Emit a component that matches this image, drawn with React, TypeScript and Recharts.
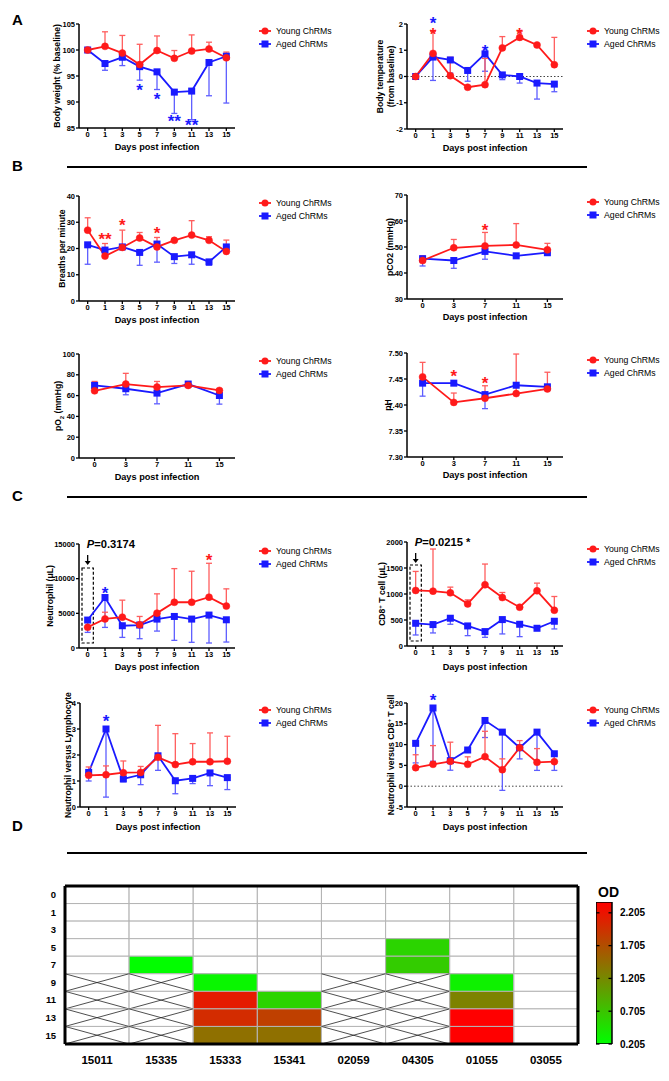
import React from 'react';
import {
  ComposedChart,
  Line,
  XAxis,
  YAxis,
  ErrorBar,
  ReferenceDot,
  ReferenceLine,
  ReferenceArea,
  BarChart,
  Bar,
} from 'recharts';

const FONT = '"Liberation Sans", Arial, Helvetica, sans-serif';
const RED = '#ff1a1a';
const BLUE = '#1a1aff';
const RED_ERR = '#ff5e5e';
const BLUE_ERR = '#5e5eff';
const SERIES = ['Young ChRMs', 'Aged ChRMs'];
const MU = '\u03bc';

const daysAll = ['0', '1', '3', '5', '7', '9', '11', '13', '15'];
const daysGas = ['0', '3', '7', '11', '15'];

// A - body weight (% baseline)
const weightYoung = [100, 100.7, 99.4, 97.2, 99.9, 98.4, 99.8, 100.2, 98.5];
const weightYoungSd = [0, 2.8, 3.4, 3.9, 2.8, 1.5, 3.1, 1.3, 1.1];
const weightAged = [100, 97.4, 98.6, 96.8, 95.8, 91.9, 92.1, 97.6, 98.8];
const weightAgedSd = [0, 1.3, 1.6, 2.6, 3.4, 4.1, 5.5, 6.4, 9.0];

// A - body temperature (from baseline)
const tempYoung = [0, 0.88, 0.03, -0.41, -0.31, 1.09, 1.49, 1.2, 0.45];
const tempYoungSd = [0, 0.84, 0.7, 0, 1.0, 0.43, 0.23, 0, 1.04];
const tempAged = [0, 0.74, 0.63, 0.23, 0.86, 0.06, 0.0, -0.25, -0.29];
const tempAgedSd = [0, 0.89, 0.5, 0.41, 0.66, 0.18, 0.25, 0.61, 0.29];

// B - breaths per minute
const breathYoung = [27.0, 17.1, 20.4, 24.0, 20.6, 23.1, 25.1, 23.1, 18.9];
const breathYoungSd = [4.7, 4.8, 6.6, 2.1, 3.6, 0, 5.5, 1.4, 4.3];
const breathAged = [21.4, 19.4, 20.6, 18.5, 21.7, 16.9, 17.6, 14.9, 20.6];
const breathAgedSd = [7.4, 0, 0, 4.9, 6.9, 2.6, 3.6, 1.3, 0];

// B - pCO2
const pco2Young = [44.8, 49.7, 50.4, 50.8, 48.9];
const pco2YoungSd = [1.8, 3.2, 5.2, 8.2, 2.5];
const pco2Aged = [45.5, 44.8, 48.3, 46.6, 47.8];
const pco2AgedSd = [2.8, 3.0, 3.0, 0, 0];

// B - pO2
const po2Young = [64.6, 71.1, 68.2, 69.8, 65.0];
const po2YoungSd = [9.0, 10.3, 5.4, 0, 1.6];
const po2Aged = [69.8, 66.6, 62.4, 71.1, 60.1];
const po2AgedSd = [3, 5.8, 10.3, 0, 8.3];

// B - pH
const phYoung = [7.454, 7.405, 7.413, 7.422, 7.431];
const phYoungSd = [0.028, 0.018, 0.024, 0.076, 0.032];
const phAged = [7.442, 7.442, 7.42, 7.438, 7.435];
const phAgedSd = [0.025, 0, 0.027, 0, 0];

// C - neutrophil (uL)
const neutYoung = [3000, 4200, 4450, 3350, 5030, 6600, 6600, 7330, 6040];
const neutYoungSd = [0, 960, 2450, 1200, 2780, 4850, 4470, 4890, 2490];
const neutAged = [4030, 7280, 3210, 3310, 4170, 4550, 4170, 4750, 4070];
const neutAgedSd = [1780, 4310, 1680, 1970, 1730, 3450, 3350, 4030, 3210];

// C - CD8+ T cell (uL)
const cd8Young = [1068, 1055, 1023, 810, 1177, 932, 746, 1061, 688];
const cd8YoungSd = [366, 810, 109, 77, 399, 97, 0, 148, 264];
const cd8Aged = [437, 412, 534, 386, 277, 508, 418, 341, 476];
const cd8AgedSd = [225, 161, 116, 187, 110, 276, 238, 0, 148];

// C - neutrophil / lymphocyte
const nlrYoung = [1.22, 1.24, 1.32, 1.33, 1.91, 1.63, 1.74, 1.74, 1.76];
const nlrYoungSd = [0.32, 0.34, 0.45, 0.23, 1.23, 1.19, 0.7, 1.11, 0.96];
const nlrAged = [1.33, 3.0, 1.08, 1.24, 1.97, 1.01, 1.1, 1.31, 1.13];
const nlrAgedSd = [0.33, 2.62, 0.11, 0.38, 0.56, 0.5, 0.2, 0.49, 0.46];

// C - neutrophil / CD8+ T cell
const ncdYoung = [4.46, 5.26, 5.98, 5.26, 7.1, 3.97, 9.26, 5.74, 5.9];
const ncdYoungSd = [3.1, 4.5, 4.6, 1.8, 6.1, 2.6, 1.7, 3.3, 1.5];
const ncdAged = [10.3, 18.8, 6.14, 8.7, 15.8, 13.0, 9.26, 13.0, 7.8];
const ncdAgedSd = [4.7, 12.8, 2.3, 0, 4.1, 14.0, 2.7, 9.2, 4.0];

type Star = { day: string; y: number; text: string; group: 'young' | 'aged' };

const weightStars: Star[] = [
  { day: '5', y: 93.0, text: '*', group: 'aged' },
  { day: '7', y: 91.2, text: '*', group: 'aged' },
  { day: '9', y: 87.0, text: '**', group: 'aged' },
  { day: '11', y: 86.3, text: '**', group: 'aged' },
];
const tempStars: Star[] = [
  { day: '1', y: 2.16, text: '*', group: 'aged' },
  { day: '1', y: 1.76, text: '*', group: 'young' },
  { day: '7', y: 1.11, text: '*', group: 'aged' },
  { day: '11', y: 1.76, text: '*', group: 'young' },
];
const breathStars: Star[] = [
  { day: '1', y: 25.0, text: '**', group: 'young' },
  { day: '3', y: 30.2, text: '*', group: 'young' },
  { day: '7', y: 27.0, text: '*', group: 'young' },
];
const pco2Stars: Star[] = [{ day: '7', y: 57.8, text: '*', group: 'young' }];
const phStars: Star[] = [
  { day: '3', y: 7.462, text: '*', group: 'young' },
  { day: '7', y: 7.449, text: '*', group: 'young' },
];
const neutStars: Star[] = [
  { day: '1', y: 8480, text: '*', group: 'aged' },
  { day: '13', y: 13180, text: '*', group: 'young' },
];
const nlrStars: Star[] = [{ day: '1', y: 3.44, text: '*', group: 'aged' }];
const ncdStars: Star[] = [{ day: '1', y: 21.6, text: '*', group: 'aged' }];

// D - heatmap (OD), null = blank, 'x' = not sampled
const heatCols = ['15011', '15335', '15333', '15341', '02059', '04305', '01055', '03055'];
const heatRows = ['0', '1', '3', '5', '7', '9', '11', '13', '15'];
const X = 'x';
const od15011 = [null, null, null, null, null, X, X, X, X];
const od15335 = [null, null, null, null, 0.22, X, X, X, X];
const od15333 = [null, null, null, null, null, 0.28, 2.15, 2.0, 1.42];
const od15341 = [null, null, null, null, null, null, 0.57, 1.83, 1.42];
const od02059 = [null, null, null, null, null, X, X, X, X];
const od04305 = [null, null, null, 0.57, 0.64, X, X, X, X];
const od01055 = [null, null, null, null, null, 0.32, 1.27, 2.37, 2.37];
const od03055 = [null, null, null, null, null, null, null, null, null];
const heatValues = [od15011, od15335, od15333, od15341, od02059, od04305, od01055, od03055];
const OD_MIN = 0.205;
const OD_MAX = 2.37;
const odTicks = [0.205, 0.705, 1.205, 1.705, 2.205];

const odColor = (v: number) => {
  const t = Math.max(0, Math.min(1, (v - OD_MIN) / (OD_MAX - OD_MIN)));
  return `rgb(${Math.round(255 * t)},${Math.round(255 * (1 - t))},0)`;
};

const PW = 156;
const YW = 40;
const M_TOP = 14;
const tickStyle = { fontSize: 7.5, fontWeight: 700, fill: '#000', fontFamily: FONT };
const axisLineStyle = { stroke: '#000', strokeWidth: 1.5 };
const tickLineStyle = { stroke: '#000', strokeWidth: 1.3 };

function LegendBox({ left, top }: { left: number; top: number }) {
  return (
    <div
      style={{
        position: 'absolute',
        left,
        top,
        fontFamily: FONT,
        fontSize: 8.7,
        whiteSpace: 'nowrap',
        color: '#000',
      }}
    >
      {SERIES.map((name, i) => {
        const color = i === 0 ? RED : BLUE;
        return (
          <div key={name} style={{ display: 'flex', alignItems: 'center', height: 13.5 }}>
            <svg width={12} height={8} style={{ marginRight: 5, overflow: 'visible' }}>
              <line x1={0} y1={4} x2={12} y2={4} stroke={color} strokeWidth={1.8} />
              {i === 0 ? (
                <circle cx={6} cy={4} r={3.5} fill={color} />
              ) : (
                <rect x={2.5} y={0.5} width={7} height={7} fill={color} />
              )}
            </svg>
            <span>{name}</span>
          </div>
        );
      })}
    </div>
  );
}

type Annot = { text: string; pY: number; arrowY: number; boxTop: number; boxBottom: number };

interface PanelCfg {
  left: number;
  plotLeft: number;
  plotTop: number;
  plotHeight: number;
  legendLeft: number;
  yLabelX: number;
  yLabel: React.ReactNode[];
  days: string[];
  young: number[];
  youngSd: number[];
  aged: number[];
  agedSd: number[];
  domain: [number, number];
  ticks: number[];
  fmt?: (v: number) => string;
  stars?: Star[];
  zero?: boolean;
  annot?: Annot;
  xLabelDy?: number;
}

function Panel(c: PanelCfg) {
  const data = c.days.map((day, i) => ({
    day,
    young: c.young[i],
    youngErr: [0, c.youngSd[i]],
    aged: c.aged[i],
    agedErr: [c.agedSd[i], 0],
  }));
  const W = 339;
  const rel = c.plotLeft - c.left;
  const H = M_TOP + c.plotHeight + 40;
  const labelCx = c.yLabelX - c.left;
  const labelCy = M_TOP + c.plotHeight / 2;
  const xDy = c.xLabelDy ?? 19;

  return (
    <div style={{ position: 'absolute', left: c.left, top: c.plotTop - M_TOP, width: W, height: H }}>
      <ComposedChart
        width={W}
        height={H}
        data={data}
        margin={{ top: M_TOP, right: W - rel - PW, bottom: 0, left: rel - YW }}
        style={{ overflow: 'visible' }}
      >
        <XAxis
          dataKey="day"
          scale="band"
          interval={0}
          height={40}
          tickSize={3}
          tickMargin={1}
          tick={tickStyle}
          tickLine={tickLineStyle}
          axisLine={axisLineStyle}
          label={(lp: any) => (
            <text
              x={lp.viewBox.x + lp.viewBox.width / 2}
              y={lp.viewBox.y + xDy}
              dy="0.35em"
              textAnchor="middle"
              fontSize={9.2}
              fontWeight={700}
              fontFamily={FONT}
              fill="#000"
            >
              Days post infection
            </text>
          )}
        />
        <YAxis
          width={YW}
          domain={c.domain}
          ticks={c.ticks}
          allowDataOverflow
          interval={0}
          tickSize={3}
          tickMargin={1}
          tick={tickStyle}
          tickFormatter={c.fmt}
          tickLine={tickLineStyle}
          axisLine={axisLineStyle}
          label={() => (
            <g>
              {c.yLabel.map((ln, i) => {
                const x = labelCx + (i - (c.yLabel.length - 1) / 2) * 11;
                return (
                  <text
                    key={i}
                    x={x}
                    y={labelCy}
                    dy="0.35em"
                    transform={`rotate(-90 ${x} ${labelCy})`}
                    textAnchor="middle"
                    fontSize={8.6}
                    fontWeight={700}
                    fontFamily={FONT}
                    fill="#000"
                  >
                    {ln}
                  </text>
                );
              })}
            </g>
          )}
        />
        {c.zero && <ReferenceLine y={0} stroke="#444" strokeDasharray="1.5 2" strokeWidth={1} />}
        {c.annot && (
          <ReferenceArea
            x1={c.days[0]}
            x2={c.days[0]}
            y1={c.annot.boxBottom}
            y2={c.annot.boxTop}
            ifOverflow="visible"
            shape={(r: any) => (
              <rect
                x={r.x + 3}
                y={r.y}
                width={r.width - 6}
                height={r.height}
                fill="none"
                stroke="#000"
                strokeWidth={1.2}
                strokeDasharray="3 2"
              />
            )}
          />
        )}
        <Line
          dataKey="aged"
          name={SERIES[1]}
          stroke={BLUE}
          strokeWidth={1.8}
          isAnimationActive={false}
          activeDot={false}
          dot={(dp: any) => (
            <rect key={`sq${dp.index}`} x={dp.cx - 3.5} y={dp.cy - 3.5} width={7} height={7} fill={BLUE} />
          )}
        >
          <ErrorBar dataKey="agedErr" width={3} stroke={BLUE_ERR} strokeWidth={1.3} direction="y" />
        </Line>
        <Line
          dataKey="young"
          name={SERIES[0]}
          stroke={RED}
          strokeWidth={1.8}
          isAnimationActive={false}
          activeDot={false}
          dot={{ r: 3.5, fill: RED, stroke: RED, strokeWidth: 0.5 }}
        >
          <ErrorBar dataKey="youngErr" width={3} stroke={RED_ERR} strokeWidth={1.3} direction="y" />
        </Line>
        {(c.stars || []).map((s, i) => (
          <ReferenceDot
            key={`st${i}`}
            x={s.day}
            y={s.y}
            r={0}
            ifOverflow="visible"
            shape={(d: any) => (
              <text
                x={d.cx}
                y={d.cy}
                dy="0.55em"
                textAnchor="middle"
                fontSize={17}
                fontWeight={700}
                fontFamily={FONT}
                fill={s.group === 'young' ? RED : BLUE}
              >
                {s.text}
              </text>
            )}
          />
        ))}
        {c.annot && (
          <ReferenceDot
            x={c.days[0]}
            y={c.annot.pY}
            r={0}
            ifOverflow="visible"
            shape={(d: any) => (
              <text x={d.cx - 1} y={d.cy} dy="0.36em" fontSize={11.2} fontWeight={700} fontFamily={FONT} fill="#000">
                <tspan fontStyle="italic">P</tspan>
                {c.annot!.text}
              </text>
            )}
          />
        )}
        {c.annot && (
          <ReferenceDot
            x={c.days[0]}
            y={c.annot.arrowY}
            r={0}
            ifOverflow="visible"
            shape={(d: any) => (
              <g>
                <line x1={d.cx} y1={d.cy - 10} x2={d.cx} y2={d.cy - 3} stroke="#000" strokeWidth={1.3} />
                <path d={`M${d.cx - 3},${d.cy - 4}L${d.cx + 3},${d.cy - 4}L${d.cx},${d.cy}Z`} fill="#000" />
              </g>
            )}
          />
        )}
      </ComposedChart>
      <LegendBox left={c.legendLeft} top={M_TOP} />
    </div>
  );
}

function HeatCell(props: any) {
  const { x, y, width, height, value } = props;
  const top = Math.min(y, y + height);
  const h = Math.abs(height);
  const fill = typeof value === 'number' ? odColor(value) : '#fff';
  return (
    <g>
      <rect x={x} y={top} width={width} height={h} fill={fill} stroke="#b4b4b4" strokeWidth={1} />
      {value === X && (
        <path
          d={`M${x},${top}L${x + width},${top + h}M${x + width},${top}L${x},${top + h}`}
          stroke="#222"
          strokeWidth={0.8}
          fill="none"
        />
      )}
    </g>
  );
}

function Heatmap() {
  const data = heatCols.map((col) => {
    const o: Record<string, any> = { col };
    heatRows.forEach((_, ri) => {
      o[`r${ri}`] = 1;
    });
    return o;
  });
  const thick = { stroke: '#000', strokeWidth: 3 };
  return (
    <div style={{ position: 'absolute', left: 0, top: 884 }}>
      <BarChart
        width={590}
        height={190}
        data={data}
        margin={{ top: 1, right: 11, left: 35, bottom: 0 }}
        barCategoryGap={0}
        barGap={0}
      >
        {heatRows.map((r, ri) => (
          <Bar
            key={r}
            dataKey={`r${ri}`}
            stackId="h"
            isAnimationActive={false}
            shape={(bp: any) => <HeatCell {...bp} value={heatValues[bp.index][ri]} />}
          />
        ))}
        <XAxis
          dataKey="col"
          interval={0}
          tickLine={false}
          tickSize={0}
          tickMargin={12}
          height={30}
          tick={{ fontSize: 11.5, fontWeight: 700, fill: '#000', fontFamily: FONT }}
          axisLine={thick}
        />
        <XAxis xAxisId="top" orientation="top" dataKey="col" height={1} tick={false} tickLine={false} axisLine={thick} />
        <YAxis
          type="number"
          domain={[0, heatRows.length]}
          reversed
          ticks={heatRows.map((_, i) => i + 0.5)}
          tickFormatter={(v: number) => heatRows[Math.floor(v)]}
          interval={0}
          width={30}
          tickLine={false}
          tickSize={0}
          tickMargin={9}
          tick={{ fontSize: 9.5, fontWeight: 700, fill: '#000', fontFamily: FONT }}
          axisLine={thick}
        />
        <YAxis
          yAxisId="right"
          orientation="right"
          domain={[0, heatRows.length]}
          width={1}
          tick={false}
          tickLine={false}
          axisLine={thick}
        />
      </BarChart>
    </div>
  );
}

function OdTick(tp: any) {
  const { x, y, payload } = tp;
  return (
    <g>
      <line x1={x - 16} x2={x - 12.5} y1={y} y2={y} stroke="#000" strokeWidth={1.3} />
      <line x1={x - 3.5} x2={x} y1={y} y2={y} stroke="#000" strokeWidth={1.3} />
      <text x={x + 8} y={y} dy="0.35em" fontSize={10} fontWeight={700} fontFamily={FONT} fill="#000">
        {Number(payload.value).toFixed(3)}
      </text>
    </g>
  );
}

function ColorBar() {
  const data = [{ name: 'OD', od: [OD_MIN, OD_MAX] }];
  return (
    <div style={{ position: 'absolute', left: 596, top: 900 }}>
      <BarChart width={80} height={154} data={data} margin={{ top: 2, right: 14, left: 0, bottom: 10 }} barCategoryGap={0}>
        <defs>
          <linearGradient id="odGrad" x1="0" y1="1" x2="0" y2="0">
            <stop offset="0" stopColor="#00ff00" />
            <stop offset="1" stopColor="#ff0000" />
          </linearGradient>
        </defs>
        <XAxis dataKey="name" hide />
        <YAxis
          orientation="right"
          domain={[OD_MIN, OD_MAX]}
          ticks={odTicks}
          allowDataOverflow
          interval={0}
          width={50}
          tickSize={0}
          tickMargin={0}
          tickLine={false}
          axisLine={false}
          tick={<OdTick />}
        />
        <Bar dataKey="od" fill="url(#odGrad)" stroke="#000" strokeWidth={1.5} isAnimationActive={false} />
      </BarChart>
    </div>
  );
}

const letterStyle: React.CSSProperties = {
  position: 'absolute',
  left: 12,
  fontFamily: FONT,
  fontWeight: 700,
  fontSize: 15,
  lineHeight: '18px',
  color: '#000',
};

const ruleStyle = (top: number): React.CSSProperties => ({
  position: 'absolute',
  left: 67,
  top: top - 1,
  width: 520,
  height: 2,
  background: '#000',
});

export default function App() {
  const fmt2 = (v: number) => v.toFixed(2);
  return (
    <div
      style={{
        position: 'absolute',
        left: 0,
        top: 0,
        width: 669,
        height: 1081,
        background: '#fff',
        overflow: 'hidden',
      }}
    >
      <div style={{ ...letterStyle, top: 11 }}>A</div>
      <div style={ruleStyle(167)} />
      <div style={{ ...letterStyle, top: 157 }}>B</div>
      <div style={ruleStyle(497)} />
      <div style={{ ...letterStyle, top: 487 }}>C</div>
      <div style={ruleStyle(853)} />
      <div style={{ ...letterStyle, top: 817 }}>D</div>

      <Panel
        left={0} plotLeft={79} plotTop={24} plotHeight={104} legendLeft={259}
        yLabelX={57} yLabel={['Body weight (% baseline)']}
        days={daysAll} young={weightYoung} youngSd={weightYoungSd} aged={weightAged} agedSd={weightAgedSd}
        domain={[85, 105]} ticks={[85, 90, 95, 100, 105]} stars={weightStars}
      />
      <Panel
        left={330} plotLeft={407} plotTop={24} plotHeight={105} legendLeft={257}
        yLabelX={385} yLabel={['Body temperature', '(from baseline)']}
        days={daysAll} young={tempYoung} youngSd={tempYoungSd} aged={tempAged} agedSd={tempAgedSd}
        domain={[-2, 2]} ticks={[-2, -1, 0, 1, 2]} stars={tempStars} zero
      />
      <Panel
        left={0} plotLeft={79} plotTop={196} plotHeight={105} legendLeft={259}
        yLabelX={62} yLabel={['Breaths per minute']}
        days={daysAll} young={breathYoung} youngSd={breathYoungSd} aged={breathAged} agedSd={breathAgedSd}
        domain={[0, 40]} ticks={[0, 10, 20, 30, 40]} stars={breathStars}
      />
      <Panel
        left={330} plotLeft={407} plotTop={195} plotHeight={104} legendLeft={257}
        yLabelX={390} yLabel={['pCO2 (mmHg)']}
        days={daysGas} young={pco2Young} youngSd={pco2YoungSd} aged={pco2Aged} agedSd={pco2AgedSd}
        domain={[30, 70]} ticks={[30, 40, 50, 60, 70]} stars={pco2Stars} xLabelDy={18}
      />
      <Panel
        left={0} plotLeft={79} plotTop={354} plotHeight={104} legendLeft={259}
        yLabelX={58}
        yLabel={[
          <>
            pO<tspan baselineShift="sub" fontSize="0.7em">2</tspan> (mmHg)
          </>,
        ]}
        days={daysGas} young={po2Young} youngSd={po2YoungSd} aged={po2Aged} agedSd={po2AgedSd}
        domain={[0, 100]} ticks={[0, 20, 40, 60, 80, 100]}
      />
      <Panel
        left={330} plotLeft={407} plotTop={353} plotHeight={104} legendLeft={257}
        yLabelX={388} yLabel={['pH']}
        days={daysGas} young={phYoung} youngSd={phYoungSd} aged={phAged} agedSd={phAgedSd}
        domain={[7.3, 7.5]} ticks={[7.3, 7.35, 7.4, 7.45, 7.5]} fmt={fmt2} stars={phStars} xLabelDy={18}
      />
      <Panel
        left={0} plotLeft={79} plotTop={544} plotHeight={104} legendLeft={259}
        yLabelX={50} yLabel={[`Neutrophil (${MU}L)`]}
        days={daysAll} young={neutYoung} youngSd={neutYoungSd} aged={neutAged} agedSd={neutAgedSd}
        domain={[0, 15000]} ticks={[0, 5000, 10000, 15000]} stars={neutStars}
        annot={{ text: '=0.3174', pY: 15000, arrowY: 11970, boxTop: 11540, boxBottom: 720 }}
      />
      <Panel
        left={330} plotLeft={407} plotTop={542} plotHeight={104} legendLeft={257}
        yLabelX={382}
        yLabel={[
          <>
            CD8<tspan baselineShift="super" fontSize="0.7em">+</tspan>
            {` T cell (${MU}L)`}
          </>,
        ]}
        days={daysAll} young={cd8Young} youngSd={cd8YoungSd} aged={cd8Aged} agedSd={cd8AgedSd}
        domain={[0, 2000]} ticks={[0, 500, 1000, 1500, 2000]} xLabelDy={21}
        annot={{ text: '=0.0215 *', pY: 2000, arrowY: 1596, boxTop: 1558, boxBottom: 96 }}
      />
      <Panel
        left={0} plotLeft={80} plotTop={703} plotHeight={104} legendLeft={259}
        yLabelX={68} yLabel={['Neutrophil versus Lymphocyte']}
        days={daysAll} young={nlrYoung} youngSd={nlrYoungSd} aged={nlrAged} agedSd={nlrAgedSd}
        domain={[0, 4]} ticks={[0, 1, 2, 3, 4]} stars={nlrStars} xLabelDy={20}
      />
      <Panel
        left={330} plotLeft={407} plotTop={703} plotHeight={104} legendLeft={257}
        yLabelX={391}
        yLabel={[
          <>
            Neutrophil versus CD8<tspan baselineShift="super" fontSize="0.7em">+</tspan> T cell
          </>,
        ]}
        days={daysAll} young={ncdYoung} youngSd={ncdYoungSd} aged={ncdAged} agedSd={ncdAgedSd}
        domain={[-5, 20]} ticks={[-5, 0, 5, 10, 15, 20]} stars={ncdStars} zero xLabelDy={20}
      />

      <Heatmap />
      <ColorBar />
      <div
        style={{
          position: 'absolute',
          left: 598,
          top: 884,
          fontFamily: FONT,
          fontWeight: 700,
          fontSize: 14,
          lineHeight: '16px',
          color: '#000',
        }}
      >
        OD
      </div>
    </div>
  );
}
